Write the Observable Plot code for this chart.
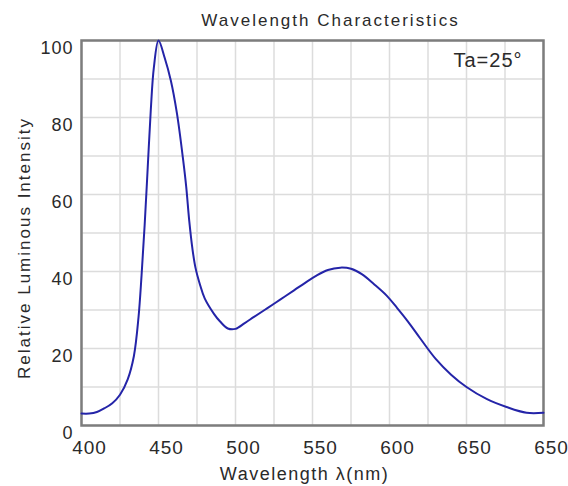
<!DOCTYPE html>
<html>
<head>
<meta charset="utf-8">
<script src="https://cdn.jsdelivr.net/npm/d3@7"></script>
<script src="https://cdn.jsdelivr.net/npm/@observablehq/plot@0.6"></script>
<style>
  html, body { margin: 0; padding: 0; background: #fff; }
  svg { font-family: "Liberation Sans", Arial, sans-serif; }
</style>
</head>
<body>
<div id="chart"></div>
<script>
const title = "Wavelength Characteristics";
const xLabel = "Wavelength \u03bb(nm)";
const yLabel = "Relative Luminous Intensity";
const note = "Ta=25\u00b0";

// wavelength (nm) and relative intensity (%)
const wavelength = [400, 405, 410, 415, 420, 425, 430, 434, 437, 439, 441, 443, 445, 447, 450, 454, 458, 462, 466, 468, 470, 472, 474, 477, 480, 486, 490, 495, 500, 506, 512, 520, 529, 538, 545, 552, 560, 568, 575, 582, 590, 598, 605, 612, 620, 630, 640, 650, 663, 676, 689, 700];
const intensity  = [3.1, 3.1, 3.5, 4.5, 5.8, 8, 12, 18, 28, 39, 52, 67, 82, 93, 100, 95.5, 89.6, 81, 69, 62, 53, 46, 41, 36.5, 33, 29, 27, 25.2, 25.1, 26.6, 28.2, 30.3, 32.7, 35.1, 37, 38.8, 40.4, 41, 40.7, 39.3, 36.7, 33.8, 30.5, 27, 22.6, 17.3, 13.2, 10, 6.9, 4.8, 3.3, 3.3];

const xTicks = [400, 450, 500, 550, 600, 650, 700];
const xTickLabels = ["400", "450", "500", "550", "600", "650", "650"];
const yTicks = [0, 20, 40, 60, 80, 100];
const xGrid = d3.range(400, 701, 25);
const yGrid = d3.range(0, 101, 10);

const data = wavelength.map((w, i) => ({w, v: intensity[i]}));

const chart = Plot.plot({
  width: 568,
  height: 486,
  marginLeft: 81,
  marginRight: 25,
  marginTop: 40,
  marginBottom: 61,
  style: {fontFamily: "'Liberation Sans', Arial, sans-serif", fontSize: "18px", color: "#2a2a2a", background: "#fff"},
  x: {domain: [400, 700]},
  y: {domain: [0, 100]},
  marks: [
    Plot.ruleX(xGrid, {stroke: "#dcdcdc", strokeWidth: 1.5}),
    Plot.ruleY(yGrid, {stroke: "#dcdcdc", strokeWidth: 1.5}),
    Plot.frame({stroke: "#7d7d7d", strokeWidth: 2.5}),
    Plot.axisX(xTicks, {
      tickSize: 0, tickPadding: 15, dx: 8, fontSize: 19, fill: "#2a2a2a",
      tickFormat: (d, i) => xTickLabels[i],
      label: null
    }),
    Plot.axisY(yTicks, {
      tickSize: 0, tickPadding: 8, dy: 8, fontSize: 18, fill: "#2a2a2a",
      label: null
    }),
    Plot.line(data, {x: "w", y: "v", stroke: "#2424a8", strokeWidth: 2, curve: "catmull-rom"}),
    Plot.text([title], {frameAnchor: "top", lineAnchor: "middle", dx: 18, dy: -20, fontSize: 17, fill: "#2a2a2a"}),
    Plot.text([xLabel], {frameAnchor: "bottom", lineAnchor: "middle", dx: -8, dy: 49, fontSize: 18, fill: "#2a2a2a"}),
    Plot.text([yLabel], {frameAnchor: "left", textAnchor: "middle", lineAnchor: "middle", dx: -57, dy: 15, rotate: -90, fontSize: 17, fill: "#2a2a2a"}),
    Plot.text([note], {frameAnchor: "top-right", textAnchor: "end", lineAnchor: "middle", dx: -21, dy: 20, fontSize: 20, fill: "#2a2a2a"})
  ]
});
// widen letter spacing of text to match the stretched look of the reference
chart.querySelectorAll("text").forEach(t => {
  const txt = t.textContent;
  if (txt === xLabel) t.setAttribute("letter-spacing", "1.5");
  else if (txt === yLabel) t.setAttribute("letter-spacing", "2");
  else if (txt === title) t.setAttribute("letter-spacing", "2");
  else t.setAttribute("letter-spacing", "1");
});
document.getElementById("chart").appendChild(chart);
</script>
</body>
</html>
